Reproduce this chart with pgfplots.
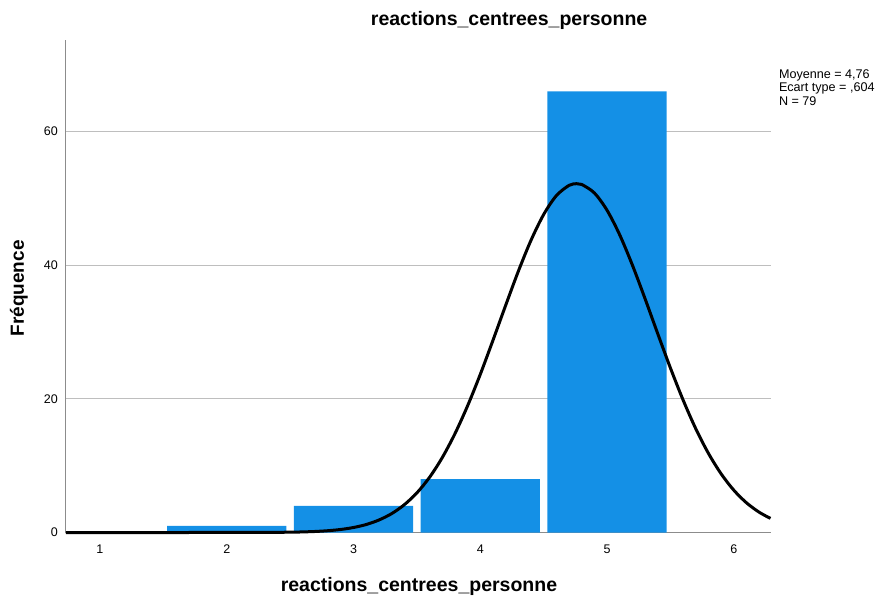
\documentclass[border=0pt]{standalone}
\usepackage{pgfplots}
\pgfplotsset{compat=1.18}
\usepackage{fontspec}
\setmainfont{Liberation Sans}
\definecolor{barblue}{RGB}{20,144,230}
\definecolor{gridgray}{RGB}{190,190,190}
\definecolor{axisgray}{RGB}{140,140,140}
\begin{document}
\begin{tikzpicture}
\path[use as bounding box] (-66pt,-62.5pt) rectangle (813pt,532.5pt);
\begin{axis}[
  at={(0pt,0pt)}, anchor=south west,
  scale only axis, width=704.5pt, height=492pt,
  xmin=0.732, xmax=6.29, ymin=0, ymax=73.6,
  xtick={1,2,3,4,5,6}, ytick={0,20,40,60},
  major tick length=0pt,
  axis x line*=bottom, axis y line*=left,
  axis line style={-, draw=axisgray, line width=1pt},
  ymajorgrids, grid style={draw=gridgray, line width=1pt},
  /pgf/number format/assume math mode=true,
  tick label style={font=\fontsize{12.5}{15}\selectfont},
  xticklabel style={anchor=base, yshift=-20.5pt},
  yticklabel style={anchor=east, inner sep=0pt, xshift=-8pt},
  title={reactions\_centrees\_personne},
  title style={at={(axis description cs:0.629,1.0183)}, anchor=base, font=\fontsize{19.5}{22}\selectfont\bfseries},
  xlabel={reactions\_centrees\_personne},
  xlabel style={at={(axis description cs:0.501,-0.1199)}, anchor=base, font=\fontsize{19.5}{22}\selectfont\bfseries},
  ylabel={Fréquence},
  ylabel style={at={(axis description cs:-0.0597,0.496)}, anchor=base, rotate=0, font=\fontsize{19}{22}\selectfont\bfseries},
  clip=false,
]
\addplot[ybar, bar width=0.94, bar shift=0pt, fill=barblue, draw=none]
  coordinates {(2,1) (3,4) (4,8) (5,66)};
\addplot[smooth, black, line width=3pt, no marks] coordinates {
(0.732,0) (1.5,0) (2.0,0.002) (2.3,0.012) (2.5,0.048) (2.6,0.087) (2.7,0.155)
(2.8,0.27) (2.9,0.455) (3.0,0.748) (3.1,1.19) (3.2,1.86) (3.3,2.81)
(3.4,4.14) (3.5,5.92) (3.6,8.25) (3.7,11.19) (3.8,14.76) (3.9,18.94)
(4.0,23.64) (4.1,28.73) (4.2,33.95) (4.3,39.05) (4.4,43.69) (4.5,47.56)
(4.6,50.38) (4.7,51.92) (4.76,52.18) (4.8,52.07) (4.9,50.80) (5.0,48.22)
(5.1,44.54) (5.2,40.02) (5.3,34.99) (5.4,29.76) (5.5,24.63) (5.6,19.84)
(5.7,15.54) (5.8,11.85) (5.9,8.79) (6.0,6.34) (6.1,4.45) (6.2,3.04) (6.29,2.11)
};
\node[anchor=base west, font=\fontsize{12.6}{15}\selectfont, inner sep=0pt] at (axis description cs:1.0118,0.9236) {Moyenne = 4,76};
\node[anchor=base west, font=\fontsize{12.6}{15}\selectfont, inner sep=0pt] at (axis description cs:1.0118,0.8961) {Ecart type = ,604};
\node[anchor=base west, font=\fontsize{12.6}{15}\selectfont, inner sep=0pt] at (axis description cs:1.0118,0.8687) {N = 79};
\end{axis}
\end{tikzpicture}
\end{document}
